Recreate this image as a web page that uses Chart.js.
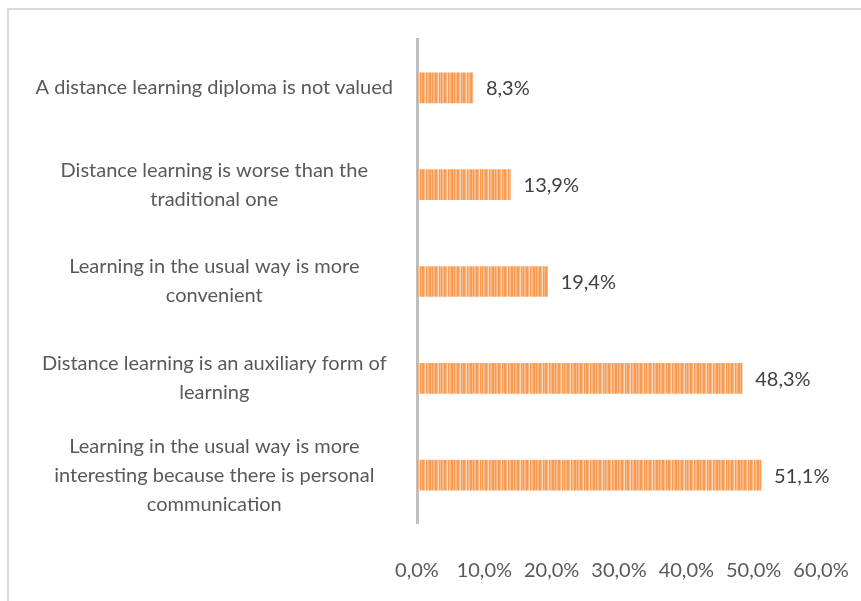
<!DOCTYPE html>
<html>
<head>
<meta charset="utf-8">
<script src="https://cdn.jsdelivr.net/npm/chart.js@4.4.0/dist/chart.umd.min.js"></script>
<style>
  html, body { margin: 0; padding: 0; background: #ffffff; }
  #wrap { width: 861px; height: 601px; position: relative; }
</style>
</head>
<body>
<div id="wrap"><canvas id="chart" width="861" height="601"></canvas></div>
<script>
// Reasons given for preferring traditional learning (share of respondents, %)
const categories = [
  ['A distance learning diploma is not valued'],
  ['Distance learning is worse than the', 'traditional one'],
  ['Learning in the usual way is more', 'convenient'],
  ['Distance learning is an auxiliary form of', 'learning'],
  ['Learning in the usual way is more', 'interesting because there is personal', 'communication']
];
const shares = [8.3, 13.9, 19.4, 48.3, 51.1];
const axisMin = 0;
const axisMax = 60;
const axisStep = 10;

const FONT = 'Lato';
const TEXT = '#595959';

// comma as decimal separator, one decimal place
const pct = v => v.toFixed(1).replace('.', ',') + '%';

// orange fill with fine vertical streaks
function streakPattern() {
  const c = document.createElement('canvas');
  c.width = 41; c.height = 4;
  const g = c.getContext('2d');
  g.fillStyle = '#FAB886';
  g.fillRect(0, 0, 41, 4);
  const dark = [[0, 2], [3, 1], [6, 2], [10, 1], [12, 2], [16, 1], [19, 2], [22, 1], [25, 2], [29, 1], [31, 1], [34, 2], [38, 1]];
  g.fillStyle = '#F79C52';
  dark.forEach(([x, w]) => g.fillRect(x, 0, w, 4));
  const light = [[9, 1], [15, 1], [28, 1], [37, 1]];
  g.fillStyle = '#FCD8BC';
  light.forEach(([x, w]) => g.fillRect(x, 0, w, 4));
  return c.getContext('2d').createPattern(c, 'repeat');
}

const ctx = document.getElementById('chart').getContext('2d');

// light grey frame along the top and left edges
const frame = {
  id: 'frame',
  beforeDraw(chart) {
    const g = chart.ctx;
    g.save();
    g.strokeStyle = '#D9D9D9';
    g.lineWidth = 2;
    g.beginPath();
    g.moveTo(8, 601);
    g.lineTo(8, 9);
    g.lineTo(861, 9);
    g.stroke();
    g.restore();
  }
};

// value written to the right of each bar
const valueLabels = {
  id: 'valueLabels',
  afterDatasetsDraw(chart) {
    const g = chart.ctx;
    const meta = chart.getDatasetMeta(0);
    const data = chart.data.datasets[0].data;
    g.save();
    g.font = '20px ' + FONT;
    g.fillStyle = '#404040';
    g.textAlign = 'left';
    g.textBaseline = 'middle';
    meta.data.forEach((bar, i) => {
      g.fillText(pct(data[i]), bar.x + 13, bar.y + 1);
    });
    g.restore();
  }
};

new Chart(ctx, {
  type: 'bar',
  data: {
    labels: categories,
    datasets: [{
      data: shares,
      backgroundColor: streakPattern(),
      borderWidth: 0,
      barThickness: 30
    }]
  },
  options: {
    indexAxis: 'y',
    responsive: false,
    animation: false,
    layout: { padding: { top: 39.5, right: 40, bottom: 19, left: 0 } },
    plugins: {
      legend: { display: false },
      tooltip: { enabled: false }
    },
    scales: {
      x: {
        min: axisMin,
        max: axisMax,
        grid: { display: false, drawTicks: false },
        border: { display: false },
        afterFit(scale) {
          scale.height = 58.5;
          scale.paddingLeft = 0;
          scale.paddingRight = 0;
        },
        ticks: {
          stepSize: axisStep,
          padding: 35,
          minRotation: 0,
          maxRotation: 0,
          color: TEXT,
          font: { family: FONT, size: 20 },
          callback: v => pct(v)
        }
      },
      y: {
        z: 1,
        grid: { display: false, drawTicks: false },
        border: { display: true, color: '#BFBFBF', width: 3 },
        afterFit(scale) {
          scale.width = 417;
          scale.paddingTop = 0;
          scale.paddingBottom = 0;
        },
        ticks: {
          autoSkip: false,
          crossAlign: 'center',
          padding: 24,
          color: TEXT,
          font: { family: FONT, size: 20, lineHeight: 1.45 }
        }
      }
    }
  },
  plugins: [frame, valueLabels]
});
</script>
</body>
</html>
